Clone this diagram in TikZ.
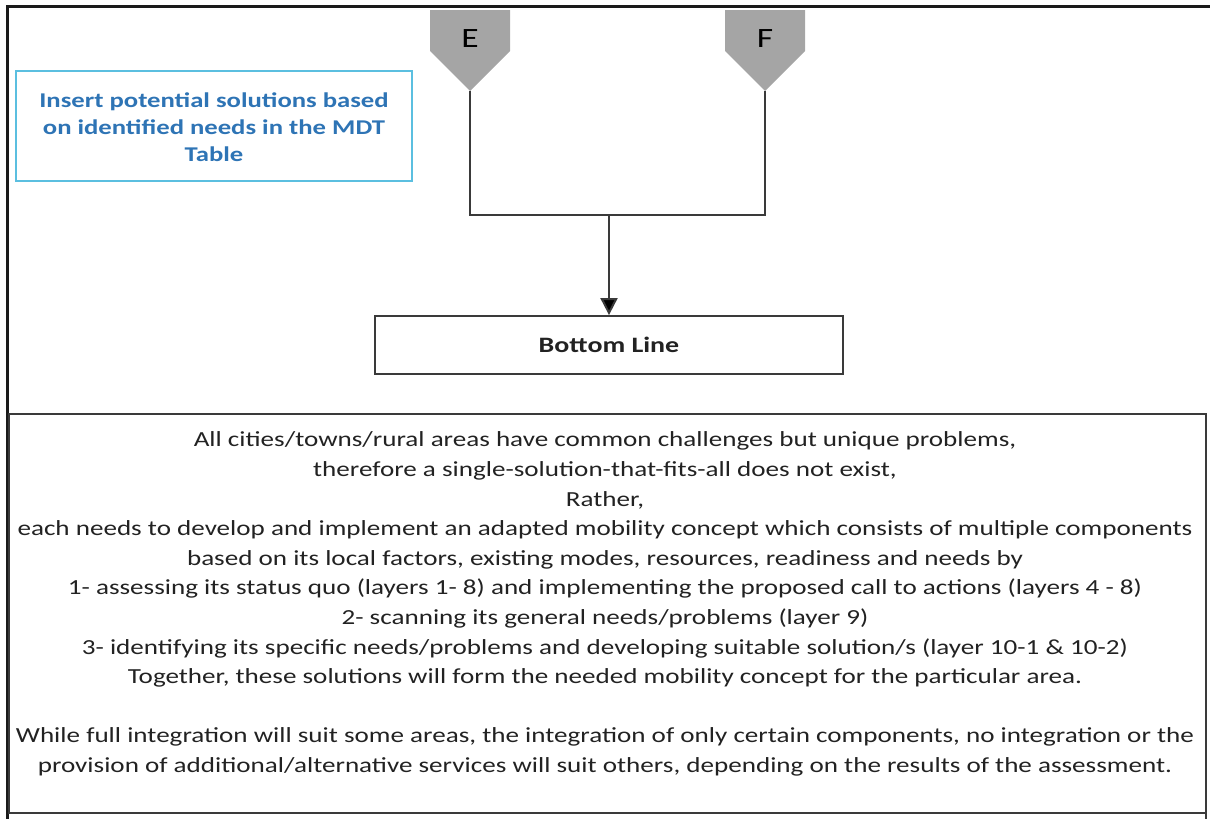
\documentclass[tikz,border=0pt]{standalone}
\usepackage{fontspec}
\setmainfont{Carlito}
\newfontfamily\wfont[FakeStretch=1.27]{Carlito}
\newfontfamily\tfont[FakeStretch=1.26]{Carlito}
\usetikzlibrary{arrows.meta}
\definecolor{framec}{HTML}{1A1A1A}
\definecolor{linec}{HTML}{3A3A3A}
\definecolor{pentc}{HTML}{A5A5A5}
\definecolor{bluebord}{HTML}{5BBFE0}
\definecolor{bluetext}{HTML}{2E74B5}
\definecolor{textc}{HTML}{222222}
\tikzset{
  pent/.style={fill=pentc, draw=none},
  conn/.style={draw=linec, line width=2pt},
  boxed/.style={draw=linec, line width=1.8pt, fill=white},
  letter/.style={font=\wfont\fontsize{28}{28}\selectfont, text=black},
}
\begin{document}
\begin{tikzpicture}[x=1pt,y=-1pt]
\useasboundingbox (0,0) rectangle (1210,819);
% outer frame
\draw[framec, line width=3pt] (7,819) -- (7,6) -- (1210,6);
% pentagons
\fill[pent] (430,10) -- (510,10) -- (510,51) -- (470,91) -- (430,51) -- cycle;
\fill[pent] (725,10) -- (805,10) -- (805,51) -- (765,91) -- (725,51) -- cycle;
\node[letter] (E) at (470,39) {E};
\node[letter] (F) at (765,39) {F};
\coordinate (Etip) at (470,91);
\coordinate (Ftip) at (765,91);
\coordinate (mid) at (609,215);
% blue box
\draw[bluebord, line width=1.6pt] (16,71) rectangle (412,181);
\node[text=bluetext, font=\wfont\fontsize{21}{27}\selectfont\bfseries, align=center] (info) at (214,127) {Insert potential solutions based\\on identified needs in the MDT\\Table};
% bottom line box
\node[boxed, minimum width=468pt, minimum height=58pt, font=\wfont\fontsize{22}{22}\selectfont\bfseries, text=textc] (bl) at (609,345) {Bottom Line};
% connectors
\draw[conn] (Etip) |- (mid) -| (Ftip);
\draw[conn, -{Triangle[length=17pt,width=17pt,fill=black]}] (mid) -- (bl.north);
% text box
\draw[linec, line width=1.8pt] (9,414) rectangle (1206,813);
\draw[linec, line width=1.8pt] (1206,813) -- (1206,819);
\node[font=\tfont\fontsize{21.5}{29.6}\selectfont, text=textc, align=center] (txt) at (605,604) {All cities/towns/rural areas have common challenges but unique problems,\\
therefore a single-solution-that-fits-all does not exist,\\
Rather,\\
each needs to develop and implement an adapted mobility concept which consists of multiple components\\
based on its local factors, existing modes, resources, readiness and needs by\\
1- assessing its status quo (layers 1- 8) and implementing the proposed call to actions (layers 4 - 8)\\
2- scanning its general needs/problems (layer 9)\\
3- identifying its specific needs/problems and developing suitable solution/s (layer 10-1 \& 10-2)\\
Together, these solutions will form the needed mobility concept for the particular area.\\
\mbox{}\\
While full integration will suit some areas, the integration of only certain components, no integration or the\\
provision of additional/alternative services will suit others, depending on the results of the assessment.};
\end{tikzpicture}
\end{document}
